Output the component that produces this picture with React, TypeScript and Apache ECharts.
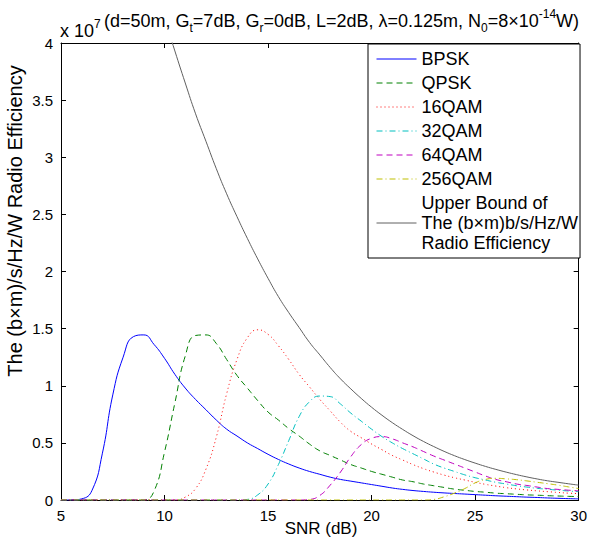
import React, { useEffect, useRef } from "react";
import * as echarts from "echarts";

const SNR = [5, 5.5, 6, 6.5, 7, 7.5, 8, 8.5, 9, 9.5, 10, 10.5, 11, 11.5, 12, 12.5, 13, 13.5, 14, 14.5, 15, 15.5, 16, 16.5, 17, 17.5, 18, 18.5, 19, 19.5, 20, 20.5, 21, 21.5, 22, 22.5, 23, 23.5, 24, 24.5, 25, 25.5, 26, 26.5, 27, 27.5, 28, 28.5, 29, 29.5, 30];

const BPSK = [0, 0, 0.01, 0.085, 0.41, 0.92, 1.25, 1.43, 1.445, 1.36, 1.24, 1.1, 0.98, 0.88, 0.79, 0.7, 0.62, 0.56, 0.5, 0.45, 0.4, 0.355, 0.315, 0.28, 0.25, 0.225, 0.2, 0.18, 0.165, 0.15, 0.135, 0.12, 0.105, 0.093, 0.083, 0.075, 0.068, 0.062, 0.057, 0.052, 0.047, 0.042, 0.037, 0.033, 0.029, 0.025, 0.022, 0.018, 0.015, 0.012, 0.01];

const QPSK = [0, 0, 0, 0, 0, 0, 0, 0, 0, 0.08, 0.42, 0.85, 1.26, 1.44, 1.445, 1.37, 1.23, 1.09, 0.98, 0.87, 0.77, 0.7, 0.625, 0.56, 0.49, 0.43, 0.39, 0.35, 0.31, 0.28, 0.25, 0.225, 0.2, 0.175, 0.16, 0.14, 0.125, 0.11, 0.095, 0.085, 0.075, 0.068, 0.06, 0.055, 0.05, 0.045, 0.042, 0.038, 0.035, 0.032, 0.03];

const QAM16 = [0, 0, 0, 0, 0, 0, 0, 0, 0, 0, 0, 0, 0.025, 0.1, 0.27, 0.55, 0.93, 1.23, 1.42, 1.49, 1.45, 1.35, 1.23, 1.1, 0.99, 0.88, 0.78, 0.68, 0.6, 0.545, 0.49, 0.44, 0.39, 0.35, 0.31, 0.275, 0.245, 0.218, 0.195, 0.175, 0.155, 0.137, 0.122, 0.108, 0.097, 0.088, 0.08, 0.073, 0.066, 0.06, 0.056];

const QAM32 = [0, 0, 0, 0, 0, 0, 0, 0, 0, 0, 0, 0, 0, 0, 0, 0, 0, 0, 0.005, 0.045, 0.14, 0.31, 0.52, 0.73, 0.86, 0.91, 0.905, 0.84, 0.76, 0.69, 0.62, 0.555, 0.5, 0.45, 0.405, 0.36, 0.315, 0.28, 0.25, 0.22, 0.195, 0.175, 0.155, 0.14, 0.125, 0.113, 0.102, 0.094, 0.086, 0.079, 0.073];

const QAM64 = [0, 0, 0, 0, 0, 0, 0, 0, 0, 0, 0, 0, 0, 0, 0, 0, 0, 0, 0, 0, 0, 0, 0, 0, 0.005, 0.04, 0.13, 0.245, 0.38, 0.485, 0.54, 0.555, 0.535, 0.5, 0.465, 0.425, 0.385, 0.35, 0.315, 0.28, 0.245, 0.21, 0.18, 0.16, 0.14, 0.127, 0.113, 0.1, 0.093, 0.086, 0.08];

const QAM256 = [0, 0, 0, 0, 0, 0, 0, 0, 0, 0, 0, 0, 0, 0, 0, 0, 0, 0, 0, 0, 0, 0, 0, 0, 0, 0, 0, 0, 0, 0, 0, 0, 0, 0, 0, 0, 0.005, 0.028, 0.06, 0.1, 0.15, 0.18, 0.19, 0.185, 0.178, 0.167, 0.155, 0.143, 0.13, 0.115, 0.1];

const UPPER = [null, null, null, null, null, null, null, null, null, 4.53, 4.22, 3.93, 3.65, 3.38, 3.14, 2.9, 2.68, 2.48, 2.29, 2.11, 1.94, 1.78, 1.64, 1.51, 1.38, 1.27, 1.16, 1.06, 0.972, 0.889, 0.812, 0.742, 0.677, 0.618, 0.563, 0.513, 0.468, 0.426, 0.388, 0.354, 0.323, 0.294, 0.268, 0.244, 0.222, 0.202, 0.184, 0.168, 0.155, 0.142, 0.13];

const X_TICKS = { min: 5, max: 30, interval: 5 };
const Y_TICKS = { min: 0, max: 4, interval: 0.5 };

const SERIES_NAMES = ["BPSK", "QPSK", "16QAM", "32QAM", "64QAM", "256QAM", "Upper Bound of\nThe (b×m)b/s/Hz/W\nRadio Efficiency"];
const SERIES_VALUES = [BPSK, QPSK, QAM16, QAM32, QAM64, QAM256, UPPER];
const SERIES_COLORS = ["#0000ff", "#008000", "#ff0000", "#00bfbf", "#bf00bf", "#bfbf00", "#606060"];
const SERIES_DASH: any[] = ["solid", [6, 4], [1, 3], [6, 3, 1, 3], [6, 4], [6, 3, 1, 3], "solid"];

const FONT = "'Liberation Sans', Arial, Helvetica, sans-serif";

export default function App() {
  const ref = useRef<HTMLDivElement>(null);
  useEffect(() => {
    if (!ref.current) return;
    const chart = echarts.init(ref.current, null, { renderer: "svg" });
    const axisCommon = {
      type: "value" as const,
      axisLine: { show: true, onZero: false, lineStyle: { color: "#000", width: 1 } },
      axisTick: { show: true, inside: true, length: 5, lineStyle: { color: "#000", width: 1 } },
      splitLine: { show: false },
    };
    const option: any = {
      animation: false,
      backgroundColor: "#fff",
      textStyle: { fontFamily: FONT },
      grid: { left: 61, top: 43, width: 520, height: 457, containLabel: false },
      xAxis: [
        {
          ...axisCommon,
          ...X_TICKS,
          position: "bottom",
          axisLabel: { show: true, color: "#000", fontSize: 15, fontFamily: FONT, margin: 8 },
        },
        {
          ...axisCommon,
          ...X_TICKS,
          position: "top",
          axisLabel: { show: false },
        },
      ],
      yAxis: [
        {
          ...axisCommon,
          ...Y_TICKS,
          position: "left",
          axisLabel: { show: true, color: "#000", fontSize: 15, fontFamily: FONT, margin: 8 },
        },
        {
          ...axisCommon,
          ...Y_TICKS,
          position: "right",
          axisLabel: { show: false },
        },
      ],
      legend: {
        orient: "vertical",
        left: 368,
        top: 44,
        backgroundColor: "#fff",
        borderColor: "#000",
        borderWidth: 1,
        borderRadius: 0,
        padding: [5, 2, 5, 8],
        itemWidth: 40,
        itemHeight: 14,
        itemGap: 4,
        itemTextGap: 5,
        itemStyle: { opacity: 0, borderWidth: 0 },
        lineStyle: { width: 1 },
        textStyle: { fontSize: 18, color: "#000", fontFamily: FONT, lineHeight: 20 },
        data: SERIES_NAMES,
      },
      graphic: [
        {
          type: "text",
          x: 60,
          y: 18,
          style: {
            text: "x 10{sup|7}",
            fontSize: 18,
            fontFamily: FONT,
            fill: "#000",
            lineHeight: 26,
            verticalAlign: "top",
            rich: {
              sup: { fontSize: 12, fontFamily: FONT, verticalAlign: "top", lineHeight: 14, fill: "#000" },
            },
          },
        },
        {
          type: "text",
          x: 104,
          y: 8,
          style: {
            text: "(d=50m, G{sub|t}=7dB, G{sub|r}=0dB, L=2dB, λ=0.125m, N{sub|0}=8×10{sup|-14}W)",
            fontSize: 18,
            fontFamily: FONT,
            fill: "#000",
            lineHeight: 26,
            verticalAlign: "top",
            rich: {
              sup: { fontSize: 12, fontFamily: FONT, verticalAlign: "top", lineHeight: 14, fill: "#000" },
              sub: { fontSize: 12, fontFamily: FONT, verticalAlign: "bottom", lineHeight: 14, fill: "#000" },
            },
          },
        },
        {
          type: "text",
          x: 15,
          y: 221,
          rotation: Math.PI / 2,
          style: {
            text: "The (b×m)/s/Hz/W Radio Efficiency",
            fontSize: 20,
            fontFamily: FONT,
            fill: "#000",
            align: "center",
            verticalAlign: "middle",
          },
        },
        {
          type: "text",
          x: 321,
          y: 528,
          style: {
            text: "SNR (dB)",
            fontSize: 17,
            fontFamily: FONT,
            fill: "#000",
            align: "center",
            verticalAlign: "middle",
          },
        },
      ],
      series: SERIES_NAMES.map((name, k) => ({
        name,
        type: "line",
        xAxisIndex: 0,
        yAxisIndex: 0,
        data: SNR.map((x, i) => [x, SERIES_VALUES[k][i]]),
        symbol: "none",
        showSymbol: false,
        smooth: 0.5,
        clip: true,
        connectNulls: false,
        itemStyle: { color: SERIES_COLORS[k], opacity: 0 },
        lineStyle: { color: SERIES_COLORS[k], width: 1, type: SERIES_DASH[k] },
        z: k === 6 ? 1 : 2,
      })),
    };
    chart.setOption(option);
    return () => chart.dispose();
  }, []);
  return (
    <div
      ref={ref}
      style={{ position: "absolute", left: 0, top: 0, width: 590, height: 548, background: "#fff" }}
    />
  );
}
